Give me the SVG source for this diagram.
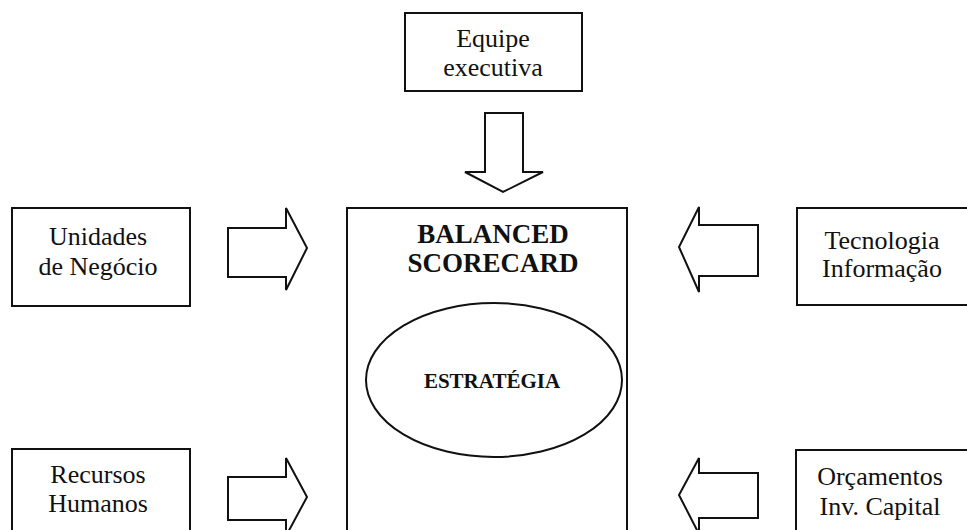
<svg xmlns="http://www.w3.org/2000/svg" width="967" height="530" viewBox="0 0 967 530">
  <style>
    .box { fill: #fff; stroke: #111; stroke-width: 2; }
    .arrow { fill: #fff; stroke: #111; stroke-width: 2; stroke-linejoin: miter; }
    .lbl { font-family: "Liberation Serif", "Times New Roman", serif; font-size: 26px; fill: #111; text-anchor: middle; }
    .title { font-family: "Liberation Serif", "Times New Roman", serif; font-size: 27px; font-weight: bold; fill: #111; text-anchor: middle; }
    .core { font-family: "Liberation Serif", "Times New Roman", serif; font-size: 21px; font-weight: bold; fill: #111; text-anchor: middle; }
  </style>
  <rect width="967" height="530" fill="#fff"/>

  <!-- central block -->
  <g id="balanced-scorecard">
    <rect class="box" x="347" y="208" width="280" height="330"/>
    <text class="title" x="493" y="243">BALANCED</text>
    <text class="title" x="493" y="272">SCORECARD</text>
  </g>
  <g id="estrategia">
    <ellipse class="box" cx="494" cy="380" rx="128" ry="77"/>
    <text class="core" x="492" y="388">ESTRATÉGIA</text>
  </g>

  <!-- surrounding inputs -->
  <g id="equipe-executiva">
    <rect class="box" x="405" y="13" width="177" height="78"/>
    <text class="lbl" x="493" y="47">Equipe</text>
    <text class="lbl" x="493" y="76">executiva</text>
  </g>
  <g id="unidades-negocio">
    <rect class="box" x="12" y="208" width="178" height="98"/>
    <text class="lbl" x="98" y="245">Unidades</text>
    <text class="lbl" x="98" y="275">de Negócio</text>
  </g>
  <g id="tecnologia-informacao">
    <rect class="box" x="797" y="208" width="190" height="97"/>
    <text class="lbl" x="882" y="249">Tecnologia</text>
    <text class="lbl" x="882" y="277">Informação</text>
  </g>
  <g id="recursos-humanos">
    <rect class="box" x="12" y="449" width="178" height="100"/>
    <text class="lbl" x="98" y="483">Recursos</text>
    <text class="lbl" x="98" y="512">Humanos</text>
  </g>
  <g id="orcamentos-capital">
    <rect class="box" x="796" y="450" width="190" height="100"/>
    <text class="lbl" x="880" y="485">Orçamentos</text>
    <text class="lbl" x="880" y="515">Inv. Capital</text>
  </g>

  <!-- block arrows pointing into the scorecard -->
  <g id="connectors">
    <polygon class="arrow" points="485,113 523,113 523,172 543,172 503,192 465,172 485,172"/>
    <polygon class="arrow" points="228,228 286,228 286,208 307,248 286,290 286,277 228,277"/>
    <polygon class="arrow" points="758,225 699,225 699,207 679,247 699,292 699,276 758,276"/>
    <polygon class="arrow" points="228,477 286,477 286,458 307,497 286,536 286,520 228,520"/>
    <polygon class="arrow" points="758,473 699,473 699,458 679,495 699,534 699,518 758,518"/>
  </g>
</svg>
